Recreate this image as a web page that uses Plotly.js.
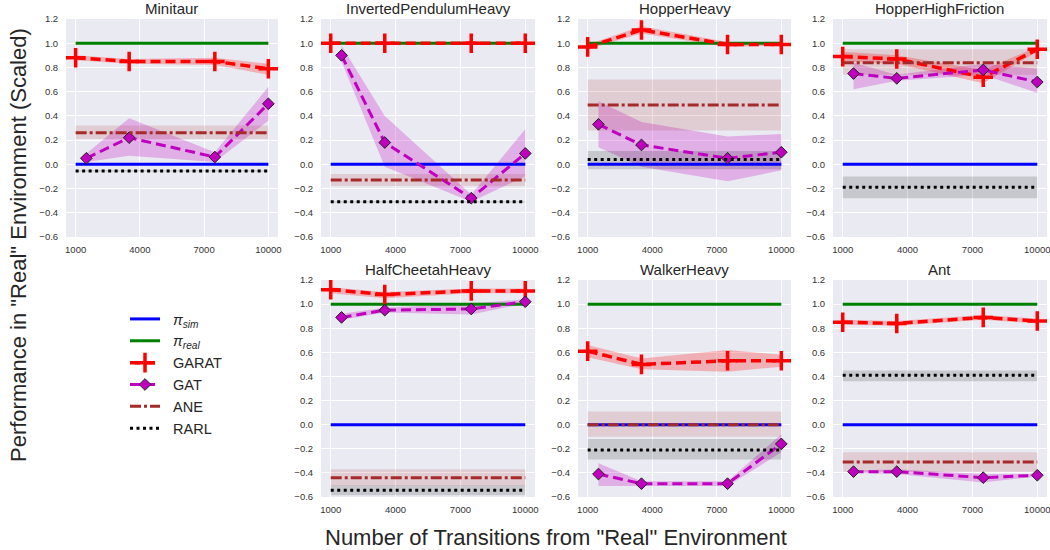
<!DOCTYPE html>
<html>
<head>
<meta charset="utf-8">
<script src="https://cdn.plot.ly/plotly-3.0.1.min.js"></script>
<style>html,body{margin:0;padding:0;background:#fff;}#chart{width:1050px;height:550px;}</style>
</head>
<body>
<div id="chart"></div>
<script>
// ---- data ----
const envNames = ["Minitaur", "InvertedPendulumHeavy", "HopperHeavy", "HopperHighFriction", "HalfCheetahHeavy", "WalkerHeavy", "Ant"];
const garatX = [1000, 3500, 7500, 10000];
const gatX = [1500, 3500, 7500, 10000];
const spanX = [1000, 10000];
const simValue = 0.0;
const realValue = 1.0;

const garatMean = [
  [0.88, 0.85, 0.85, 0.79],
  [1.00, 1.00, 1.00, 1.00],
  [0.97, 1.11, 0.99, 0.99],
  [0.89, 0.87, 0.72, 0.95],
  [1.12, 1.08, 1.11, 1.11],
  [0.61, 0.50, 0.53, 0.53],
  [0.85, 0.84, 0.89, 0.86]
];
const garatLow = [
  [0.86, 0.83, 0.82, 0.74],
  [0.99, 0.99, 0.99, 0.99],
  [0.95, 1.08, 0.97, 0.98],
  [0.85, 0.83, 0.67, 0.93],
  [1.09, 1.05, 1.09, 1.09],
  [0.56, 0.46, 0.44, 0.48],
  [0.83, 0.82, 0.87, 0.84]
];
const garatHigh = [
  [0.90, 0.87, 0.88, 0.83],
  [1.01, 1.01, 1.01, 1.01],
  [0.99, 1.14, 1.01, 1.01],
  [0.93, 0.90, 0.78, 0.97],
  [1.14, 1.10, 1.13, 1.13],
  [0.66, 0.55, 0.62, 0.58],
  [0.87, 0.86, 0.91, 0.88]
];

const gatMean = [
  [0.05, 0.22, 0.06, 0.50],
  [0.90, 0.18, -0.28, 0.09],
  [0.33, 0.16, 0.05, 0.10],
  [0.75, 0.71, 0.78, 0.68],
  [0.89, 0.95, 0.96, 1.02],
  [-0.41, -0.49, -0.49, -0.16],
  [-0.39, -0.39, -0.44, -0.42]
];
const gatLow = [
  [0.02, 0.07, 0.02, 0.36],
  [0.85, -0.02, -0.31, -0.10],
  [0.14, -0.02, -0.14, -0.05],
  [0.62, 0.69, 0.74, 0.59],
  [0.87, 0.93, 0.915, 1.005],
  [-0.51, -0.51, -0.51, -0.23],
  [-0.40, -0.41, -0.48, -0.43]
];
const gatHigh = [
  [0.09, 0.38, 0.10, 0.64],
  [0.98, 0.40, -0.25, 0.29],
  [0.52, 0.35, 0.23, 0.25],
  [0.84, 0.74, 0.83, 0.79],
  [0.92, 0.97, 1.005, 1.04],
  [-0.32, -0.47, -0.47, -0.08],
  [-0.38, -0.37, -0.41, -0.41]
];

const aneMean = [0.26, -0.13, 0.49, 0.84, -0.44, 0.00, -0.31];
const aneLow  = [0.21, -0.18, 0.28, 0.74, -0.51, -0.10, -0.39];
const aneHigh = [0.32, -0.08, 0.70, 0.95, -0.37, 0.11, -0.23];

const rarlMean = [-0.055, -0.31, 0.04, -0.19, -0.545, -0.21, 0.41];
const rarlLow  = [-0.06, -0.315, -0.04, -0.28, -0.585, -0.29, 0.36];
const rarlHigh = [-0.05, -0.305, 0.11, -0.10, -0.505, -0.12, 0.45];

const xTickVals = [1000, 4000, 7000, 10000];

// ---- layout geometry ----
const W = 1050, H = 550;
const colPx = [[66, 278], [321, 535], [578, 791], [833, 1047]];
const rowPx = [[19, 237], [280, 497]];
const slots = [[0,0],[0,1],[0,2],[0,3],[1,1],[1,2],[1,3]];

const FONT = "Liberation Sans, Arial, sans-serif";
const C = {sim:"#0000FF", real:"#008000", garat:"#FF0000", gat:"#BF00BF", ane:"#A52A2A", rarl:"#000000"};
const SP = "\u00A0\u00A0";

const traces = [];
const layout = {
  width: W, height: H,
  margin: {l:0, r:0, t:0, b:0},
  paper_bgcolor: "#FFFFFF",
  plot_bgcolor: "#EAEAF2",
  font: {family: FONT, color: "#262626"},
  showlegend: true,
  legend: {
    x: 125/W, y: 1 - 303/H, xanchor: "left", yanchor: "top",
    bgcolor: "rgba(0,0,0,0)", font: {size: 14.5, family: FONT, color: "#262626"},
    tracegroupgap: 0
  },
  annotations: []
};

function band(xs, lo, hi, color, xa, ya) {
  return {
    x: xs.concat(xs.slice().reverse()),
    y: hi.concat(lo.slice().reverse()),
    xaxis: xa, yaxis: ya, type: "scatter", mode: "lines",
    fill: "toself", fillcolor: color, line: {width: 0, color: "rgba(0,0,0,0)"},
    hoverinfo: "skip", showlegend: false
  };
}

envNames.forEach((name, i) => {
  const [r, c] = slots[i];
  const n = i === 0 ? "" : String(i + 1);
  const xa = "x" + n, ya = "y" + n;
  const xd = [colPx[c][0] / W, colPx[c][1] / W];
  const yd = [1 - rowPx[r][1] / H, 1 - rowPx[r][0] / H];
  layout["xaxis" + n] = {
    domain: xd, anchor: ya, range: [550, 10450],
    tickvals: xTickVals, ticktext: xTickVals.map(String),
    showgrid: true, gridcolor: "#FFFFFF", gridwidth: 1, zeroline: false,
    showline: false, ticks: "outside", ticklen: 4, tickcolor: "rgba(0,0,0,0)",
    ticklabeloverflow: "allow",
    tickfont: {size: 9.5, family: FONT, color: "#333333"}
  };
  layout["yaxis" + n] = {
    domain: yd, anchor: xa, range: [-0.6005, 1.2005],
    tick0: -0.6, dtick: 0.2, tickformat: ".1f",
    showgrid: true, gridcolor: "#FFFFFF", gridwidth: 1, zeroline: false,
    showline: false, ticks: "outside", ticklen: 5, tickcolor: "rgba(0,0,0,0)",
    ticklabeloverflow: "allow",
    tickfont: {size: 9.5, family: FONT, color: "#333333"}
  };
  layout.annotations.push({
    text: name, xref: "paper", yref: "paper",
    x: (xd[0] + xd[1]) / 2, y: yd[1], xanchor: "center", yanchor: "bottom",
    yshift: 0, showarrow: false, font: {size: 15, family: FONT, color: "#262626"}
  });

  const lg = i === 0;
  // bands
  traces.push(band(garatX, garatLow[i], garatHigh[i], "rgba(255,0,0,0.25)", xa, ya));
  traces.push(band(gatX, gatLow[i], gatHigh[i], "rgba(191,0,191,0.25)", xa, ya));
  traces.push(band(spanX, [aneLow[i], aneLow[i]], [aneHigh[i], aneHigh[i]], "rgba(165,42,42,0.15)", xa, ya));
  traces.push(band(spanX, [rarlLow[i], rarlLow[i]], [rarlHigh[i], rarlHigh[i]], "rgba(0,0,0,0.15)", xa, ya));

  // lines
  traces.push({x: spanX, y: [simValue, simValue], xaxis: xa, yaxis: ya, mode: "lines",
    line: {color: C.sim, width: 3}, name: SP + "<i>π</i><sub><i>sim</i></sub>", legendgroup: "sim", showlegend: lg, legendrank: 1});
  traces.push({x: spanX, y: [realValue, realValue], xaxis: xa, yaxis: ya, mode: "lines",
    line: {color: C.real, width: 3}, name: SP + "<i>π</i><sub><i>real</i></sub>", legendgroup: "real", showlegend: lg, legendrank: 2});
  traces.push({x: garatX, y: garatMean[i], xaxis: xa, yaxis: ya, mode: "lines+markers",
    line: {color: C.garat, width: 3.5, dash: "10px,5px"},
    marker: {symbol: "cross-thin", size: 14, color: C.garat, line: {color: C.garat, width: 3.5}},
    name: SP + "GARAT", legendgroup: "garat", showlegend: lg, legendrank: 3});
  traces.push({x: gatX, y: gatMean[i], xaxis: xa, yaxis: ya, mode: "lines+markers",
    line: {color: C.gat, width: 3, dash: "10px,5px"},
    marker: {symbol: "diamond", size: 9, color: C.gat, line: {color: "#222222", width: 1}},
    name: SP + "GAT", legendgroup: "gat", showlegend: lg, legendrank: 4});
  traces.push({x: spanX, y: [aneMean[i], aneMean[i]], xaxis: xa, yaxis: ya, mode: "lines",
    line: {color: C.ane, width: 3, dash: "11px,3px,3px,3px"},
    name: SP + "ANE", legendgroup: "ane", showlegend: lg, legendrank: 5});
  traces.push({x: spanX, y: [rarlMean[i], rarlMean[i]], xaxis: xa, yaxis: ya, mode: "lines",
    line: {color: C.rarl, width: 3, dash: "3px,3.5px"},
    name: SP + "RARL", legendgroup: "rarl", showlegend: lg, legendrank: 6});
});

layout.annotations.push({
  text: "Performance in \"Real\" Environment (Scaled)", xref: "paper", yref: "paper",
  x: 18 / W, y: 1 - 245 / H, xanchor: "center", yanchor: "middle", textangle: -90,
  showarrow: false, font: {size: 22, family: FONT, color: "#262626"}
});
layout.annotations.push({
  text: "Number of Transitions from \"Real\" Environment", xref: "paper", yref: "paper",
  x: 556 / W, y: 1 - 537 / H, xanchor: "center", yanchor: "middle",
  showarrow: false, font: {size: 22, family: FONT, color: "#262626"}
});

Plotly.newPlot("chart", traces, layout, {displayModeBar: false, staticPlot: true});
</script>
</body>
</html>
